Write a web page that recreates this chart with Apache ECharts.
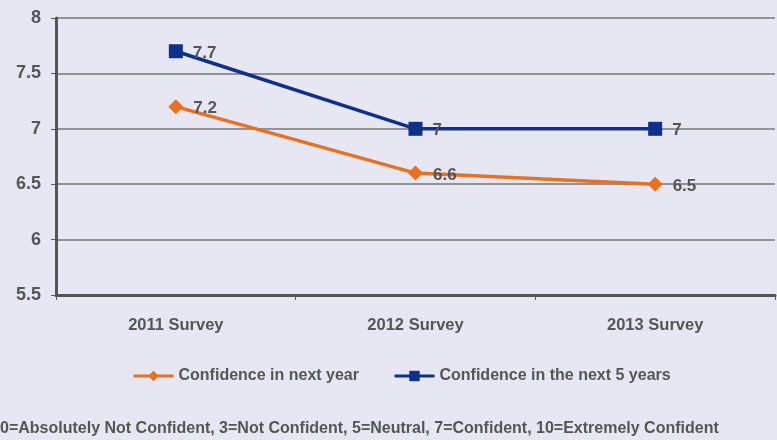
<!DOCTYPE html>
<html><head><meta charset="utf-8">
<script src="https://cdn.jsdelivr.net/npm/echarts@6/dist/echarts.min.js"></script>
<style>html,body{margin:0;padding:0;background:#e7e6f3;}#c{width:777px;height:440px;}</style>
</head><body><div id="c"></div>
<script>
var categories = ['2011 Survey', '2012 Survey', '2013 Survey'];
var nextYear = [7.2, 6.6, 6.5];
var next5Years = [7.7, 7, 7];
var seriesNames = ['Confidence in next year', 'Confidence in the next 5 years'];
var footnote = '0=Absolutely Not Confident, 3=Not Confident, 5=Neutral, 7=Confident, 10=Extremely Confident';

var FONT = '"Liberation Sans Narrow", "Arial Narrow", "Liberation Sans", sans-serif';
var chart = echarts.init(document.getElementById('c'), null, {renderer: 'canvas'});
var lbl = {show: true, position: 'right', distance: 10, color: '#555', fontSize: 17, fontWeight: 'bold', fontFamily: FONT, offset: [0, 2]};
chart.setOption({
  backgroundColor: '#e7e6f3',
  animation: false,
  grid: {left: 56, right: 2, top: 18, bottom: 145},
  legend: {
    top: 363, left: 127, itemGap: 34, itemWidth: 40, itemHeight: 13,
    lineStyle: {width: 3},
    textStyle: {color: '#555', fontSize: 16, fontWeight: 'bold', fontFamily: FONT},
    data: seriesNames
  },
  graphic: [{
    type: 'text', left: 0, top: 421,
    style: {text: footnote, fill: '#555', fontSize: 16, fontWeight: 'bold', fontFamily: FONT}
  }],
  xAxis: {
    type: 'category', data: categories, boundaryGap: true,
    axisLine: {lineStyle: {color: '#555', width: 3}},
    axisTick: {show: true, length: 5, lineStyle: {color: '#555', width: 1}},
    axisLabel: {color: '#555', fontSize: 16.5, fontWeight: 'bold', fontFamily: FONT, margin: 22}
  },
  yAxis: {
    type: 'value', min: 5.5, max: 8, interval: 0.5,
    axisLine: {show: true, lineStyle: {color: '#555', width: 3}},
    axisTick: {show: true, length: 5, lineStyle: {color: '#555', width: 1}},
    splitLine: {lineStyle: {color: '#777', width: 1.5}},
    axisLabel: {color: '#555', fontSize: 18, fontWeight: 'bold', fontFamily: FONT, margin: 15}
  },
  series: [{
    name: seriesNames[0], type: 'line', data: nextYear,
    symbol: 'diamond', symbolSize: 15,
    lineStyle: {color: '#e87022', width: 3.5},
    itemStyle: {color: '#e87022'},
    label: lbl
  }, {
    name: seriesNames[1], type: 'line', data: next5Years,
    symbol: 'rect', symbolSize: 14,
    lineStyle: {color: '#0e2f8a', width: 3.5},
    itemStyle: {color: '#0e2f8a'},
    label: lbl
  }]
});
</script></body></html>
